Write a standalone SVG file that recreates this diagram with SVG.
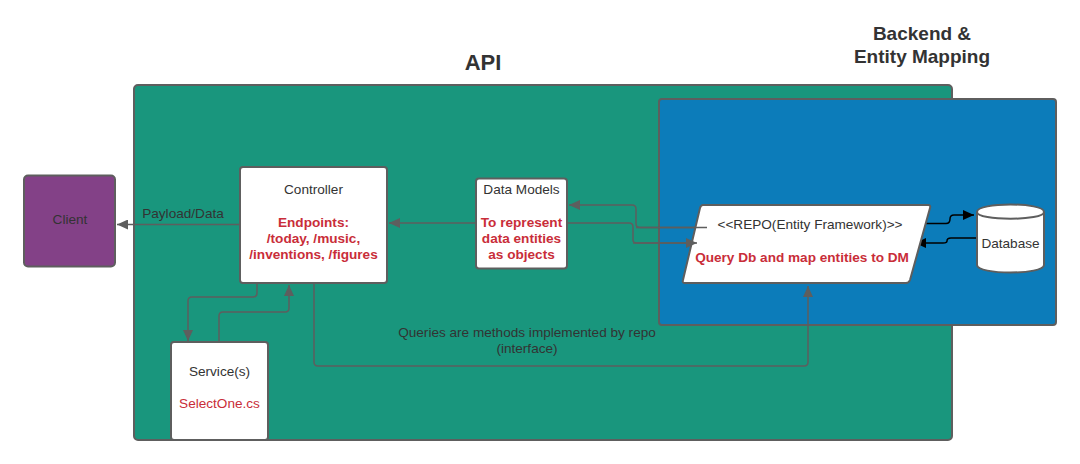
<svg xmlns="http://www.w3.org/2000/svg" width="1080" height="464" viewBox="0 0 1080 464">
<style>
text{font-family:"Liberation Sans",Arial,sans-serif;fill:#333;font-size:13.6px;text-anchor:middle}
.box{stroke:#5e5e5e;stroke-width:2}
.red{fill:#c92d39}
.b{font-weight:bold}
.title{font-size:22px;font-weight:bold}
.title2{font-size:19px;font-weight:bold}
.c{fill:none;stroke:#5e5e5e;stroke-width:1.5}
.k{fill:none;stroke:#000;stroke-width:1.5}
</style>
<defs>
<marker id="g" markerUnits="userSpaceOnUse" markerWidth="12" markerHeight="10" refX="11" refY="5" orient="auto"><path d="M0 0L11 5L0 10z" fill="#5e5e5e"/></marker>
<marker id="bk" markerUnits="userSpaceOnUse" markerWidth="12" markerHeight="10" refX="11" refY="5" orient="auto"><path d="M0 0L11 5L0 10z" fill="#000"/></marker>
</defs>
<rect width="1080" height="464" fill="#fff"/>
<g id="titles">
<text class="title" x="483" y="70">API</text>
<text class="title2" x="922" y="40">Backend &amp;</text>
<text class="title2" x="922" y="63">Entity Mapping</text>
</g>
<g id="api"><rect class="box" x="134" y="85" width="818" height="355" rx="4" fill="#19967d"/></g>
<g id="backend"><rect class="box" x="659" y="99" width="397" height="226" rx="3" fill="#0c7cba"/></g>
<g id="client"><rect class="box" x="24" y="175.500" width="91" height="91" rx="4" fill="#834187"/><text x="70" y="224">Client</text></g>
<g id="connectors">
<path class="c" marker-end="url(#g)" d="M240 224.500H117"/>
<path class="c" marker-end="url(#g)" d="M476 223H389"/>
<path class="c" marker-end="url(#g)" d="M257 283V293Q257 297 253 297H192Q188 297 188 301V341"/>
<path class="c" marker-end="url(#g)" d="M219 341V316Q219 312 223 312H285Q289 312 289 308V285"/>
<path class="c" marker-end="url(#g)" d="M314 283V362Q314 366 318 366H804Q808 366 808 362V286"/>
<path class="c" marker-end="url(#g)" d="M707 227.500H640Q636 227.500 636 223.500V209Q636 205 632 205H569"/>
<path class="c" d="M567 223H629Q633 223 633 227V240Q633 243 637 243H697"/>
<path class="k" marker-end="url(#bk)" d="M926 223.500H946Q950 223.500 950 219V219Q950 215 954 215H974"/>
<path class="k" marker-end="url(#bk)" d="M976 238H951Q947 238 947 241Q947 243 943 243H915"/>
<text x="183" y="218">Payload/Data</text>
<text x="527" y="337">Queries are methods implemented by repo</text>
<text x="527" y="353">(interface)</text>
</g>
<g id="controller"><rect class="box" x="240" y="167" width="147" height="116" rx="3" fill="#fff"/>
<text x="313.500" y="194">Controller</text>
<text class="red b" x="313.500" y="227">Endpoints:</text>
<text class="red b" x="313.500" y="243">/today, /music,</text>
<text class="red b" x="313.500" y="259">/inventions, /figures</text></g>
<g id="data-models"><rect class="box" x="476" y="178.500" width="91" height="90" rx="3" fill="#fff"/>
<text x="521.500" y="194">Data Models</text>
<text class="red b" x="521.500" y="227">To represent</text>
<text class="red b" x="521.500" y="243">data entities</text>
<text class="red b" x="521.500" y="259">as objects</text></g>
<g id="service"><rect class="box" x="171" y="342" width="97" height="98" rx="3" fill="#fff"/>
<text x="219.500" y="376">Service(s)</text>
<text class="red" x="219.500" y="408">SelectOne.cs</text></g>
<g id="repo"><path class="box" d="M703 205H928Q931 205 930 208L910 280Q909 283 906 283H685Q682 283 683 280L700 208Q701 205 703 205Z" fill="#fff"/>
<path class="c" d="M636 227.500H707"/>
<path class="c" marker-end="url(#g)" d="M633 243H697"/>
<text x="810" y="229">&lt;&lt;REPO(Entity Framework)&gt;&gt;</text>
<text class="red b" x="802" y="262">Query Db and map entities to DM</text></g>
<g id="database"><path class="box" d="M977 212C977 202 1044 202 1044 212V265C1044 275 977 275 977 265Z" fill="#fff"/>
<path class="box" d="M977 212C977 221 1044 221 1044 212" fill="none"/>
<text x="1010.500" y="248">Database</text></g>
</svg>
